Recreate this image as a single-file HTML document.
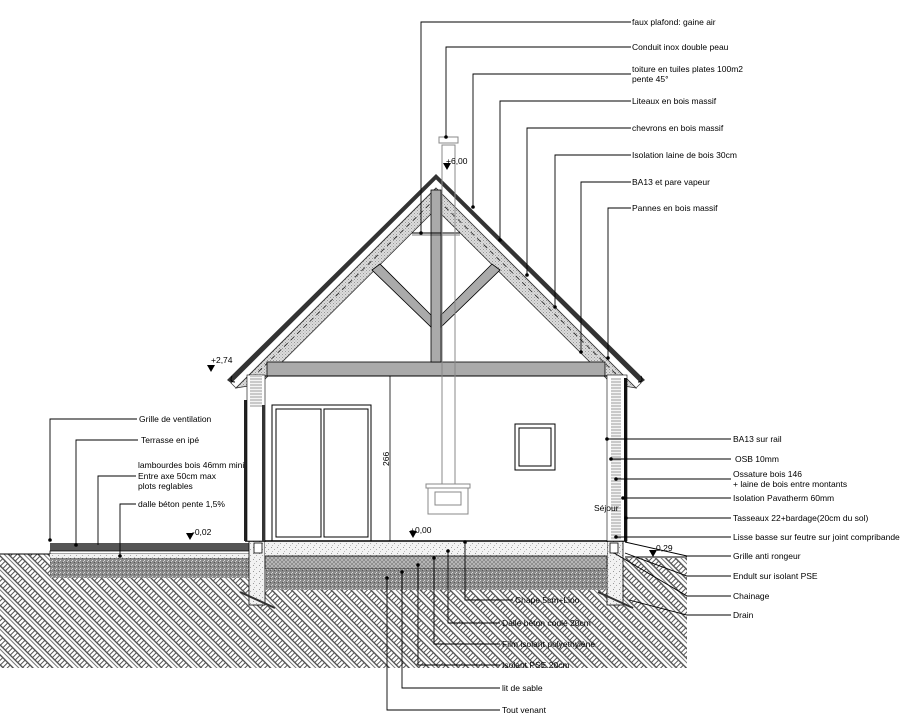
<!DOCTYPE html>
<html><head><meta charset="utf-8"><style>
html,body{margin:0;padding:0;background:#fff;}
svg{display:block;}
text{font-family:"Liberation Sans",sans-serif;font-size:8.5px;fill:#000;}
</style></head><body>
<svg width="907" height="722" viewBox="0 0 907 722" xmlns="http://www.w3.org/2000/svg">
<defs>
<pattern id="hatch" width="14" height="14" patternUnits="userSpaceOnUse" patternTransform="rotate(45)">
<rect width="14" height="14" fill="#fff"/>
<line x1="0" y1="1" x2="14" y2="1" stroke="#444" stroke-width="1.3"/>
<line x1="0" y1="8" x2="14" y2="8" stroke="#444" stroke-width="1.3"/>
<line x1="1.5" y1="1" x2="1.5" y2="8" stroke="#555" stroke-width="1"/>
<line x1="5" y1="1" x2="5" y2="8" stroke="#555" stroke-width="1"/>
<line x1="8.5" y1="1" x2="8.5" y2="8" stroke="#555" stroke-width="1"/>
<line x1="12" y1="1" x2="12" y2="8" stroke="#555" stroke-width="1"/>
<line x1="0" y1="11" x2="14" y2="11" stroke="#666" stroke-width="0.9"/>
</pattern>
<pattern id="gravel" width="4" height="4" patternUnits="userSpaceOnUse">
<rect width="4" height="4" fill="#8a8a8a"/>
<rect x="0" y="0" width="1" height="1" fill="#ddd"/>
<rect x="2" y="2" width="1" height="1" fill="#555"/>
<rect x="3" y="1" width="1" height="1" fill="#ccc"/>
</pattern>
<pattern id="speck" width="6" height="6" patternUnits="userSpaceOnUse">
<rect width="6" height="6" fill="#f2f2f2"/>
<rect x="1" y="1" width="1" height="1" fill="#999"/>
<rect x="4" y="3" width="1" height="1" fill="#aaa"/>
<rect x="2" y="5" width="1" height="1" fill="#bbb"/>
</pattern>
<pattern id="mesh" width="4" height="4" patternUnits="userSpaceOnUse">
<rect width="4" height="4" fill="#bbb"/>
<path d="M0 0L4 4M4 0L0 4" stroke="#777" stroke-width="0.6"/>
</pattern>
<pattern id="ins" width="3" height="3" patternUnits="userSpaceOnUse">
<rect width="3" height="3" fill="#dcdcdc"/>
<rect x="0" y="0" width="1" height="1" fill="#999"/>
<rect x="1.5" y="1.5" width="1" height="1" fill="#aaa"/>
</pattern>
<pattern id="stud" width="4" height="3" patternUnits="userSpaceOnUse">
<rect width="4" height="3" fill="#f4f4f4"/>
<line x1="0" y1="1" x2="4" y2="1" stroke="#888" stroke-width="0.8"/>
</pattern>
</defs>

<!-- ground -->
<polygon points="0,554 50,554 50,578 250,578 250,600 265,606 265,590 607,590 607,600 622,606 622,558 687,558 687,668 0,668" fill="url(#hatch)"/>
<line x1="0" y1="554" x2="50" y2="554" stroke="#000"/>
<line x1="625" y1="557" x2="687" y2="557" stroke="#000"/>
<!-- terrace -->
<rect x="50" y="543" width="200" height="8" fill="#555"/>
<rect x="50" y="551" width="200" height="3" fill="#fff" stroke="#000" stroke-width="0.7"/>
<rect x="50" y="554" width="200" height="4" fill="url(#speck)"/>
<rect x="50" y="558" width="200" height="20" fill="url(#gravel)"/>
<!-- slab & foundations -->
<rect x="249" y="541" width="16" height="64" fill="url(#speck)" stroke="#000" stroke-width="0.8"/>
<rect x="607" y="541" width="16" height="64" fill="url(#speck)" stroke="#000" stroke-width="0.8"/>
<rect x="265" y="542" width="342" height="14" fill="url(#speck)"/>
<rect x="265" y="556" width="342" height="13" fill="url(#mesh)" stroke="#000" stroke-width="0.8"/>
<rect x="265" y="569" width="342" height="21" fill="url(#gravel)"/>
<rect x="254" y="543" width="8" height="10" fill="#fff" stroke="#000" stroke-width="0.8"/>
<rect x="610" y="543" width="8" height="10" fill="#fff" stroke="#000" stroke-width="0.8"/>
<line x1="245" y1="541" x2="627" y2="541" stroke="#000" stroke-width="1.5"/>
<line x1="240" y1="592" x2="275" y2="608" stroke="#333" stroke-width="2"/>
<line x1="598" y1="592" x2="633" y2="608" stroke="#333" stroke-width="2"/>

<!-- roof -->
<polygon points="436,174 645,380 641,383 436,179 231,383 227,380" fill="#333"/>
<polygon points="436,179 641,383 636,388 436,188 236,388 231,383" fill="#fff" stroke="#333" stroke-width="0.7"/>
<polygon points="436,188 636,388 612,384 436,209 260,384 236,388" fill="url(#ins)" stroke="#333" stroke-width="0.8"/>
<polyline points="252,378 436,198 620,378" fill="none" stroke="#222" stroke-width="0.8" stroke-dasharray="5,4"/>
<path d="M232 376 q-3 6 3 6" fill="none" stroke="#000"/>
<path d="M641 376 q3 6 -3 6" fill="none" stroke="#000"/>
<!-- trusses -->
<rect x="267" y="362" width="338" height="14" fill="#aaa" stroke="#000" stroke-width="0.8"/>
<rect x="431" y="190" width="10" height="172" fill="#aaa" stroke="#000" stroke-width="0.8"/>
<polygon points="372,270 380,264 431,315 431,327" fill="#aaa" stroke="#000" stroke-width="0.8"/>
<polygon points="500,270 492,264 441,315 441,327" fill="#aaa" stroke="#000" stroke-width="0.8"/>
<line x1="412" y1="233" x2="460" y2="233" stroke="#000"/>
<line x1="412" y1="235" x2="460" y2="235" stroke="#000" stroke-width="0.6"/>

<!-- walls -->
<rect x="244" y="400" width="3" height="141" fill="#222"/>
<rect x="247" y="375" width="18" height="166" fill="#fff" stroke="#000" stroke-width="0.6"/>
<rect x="250" y="375" width="12" height="32" fill="url(#stud)"/>
<rect x="262" y="405" width="3" height="136" fill="#333"/>
<rect x="607" y="375" width="20" height="166" fill="#fff" stroke="#000" stroke-width="0.6"/>
<rect x="611" y="378" width="10" height="162" fill="url(#stud)"/>
<rect x="624" y="378" width="3" height="163" fill="#111"/>
<line x1="265" y1="376" x2="607" y2="376" stroke="#000"/>

<!-- chimney -->
<rect x="442" y="145" width="13" height="340" fill="none" stroke="#888" stroke-width="1"/>
<rect x="439" y="137" width="19" height="6" fill="#fff" stroke="#888"/>
<rect x="426" y="484" width="44" height="4" fill="#fff" stroke="#888"/>
<rect x="428" y="488" width="40" height="26" fill="#fff" stroke="#888"/>
<rect x="435" y="492" width="26" height="13" fill="none" stroke="#888"/>
<!-- door -->
<rect x="272" y="405" width="99" height="136" fill="none" stroke="#000"/>
<rect x="276" y="409" width="45" height="128" fill="none" stroke="#000"/>
<rect x="324" y="409" width="44" height="128" fill="none" stroke="#000"/>
<!-- window -->
<rect x="515" y="424" width="40" height="46" fill="none" stroke="#000"/>
<rect x="519" y="428" width="32" height="38" fill="none" stroke="#000"/>
<!-- dimension -->
<line x1="390" y1="376" x2="390" y2="541" stroke="#000" stroke-width="0.8"/>
<text x="389" y="466" transform="rotate(-90 389 466)" font-size="7">266</text>

<!-- level marks -->
<g fill="#000">
<polygon points="443,163 451,163 447,170"/><text x="446" y="164">+6,00</text>
<polygon points="207,365 215,365 211,372"/><text x="211" y="363">+2,74</text>
<polygon points="186,533 194,533 190,540"/><text x="192" y="535">-0,02</text>
<polygon points="409,531 417,531 413,538"/><text x="410" y="533">+0,00</text>
<polygon points="649,550 657,550 653,557"/><text x="656" y="551">0,29</text>
</g>
<text x="594" y="511" font-size="8">Séjour</text>

<!-- leaders -->
<g fill="none" stroke="#000" stroke-width="0.9">
<polyline points="421,233 421,22 631,22"/>
<polyline points="446,137 446,47 631,47"/>
<polyline points="473,207 473,74 631,74"/>
<polyline points="500,240 500,101 631,101"/>
<polyline points="527,275 527,128 631,128"/>
<polyline points="555,307 555,155 631,155"/>
<polyline points="581,352 581,182 631,182"/>
<polyline points="608,358 608,208 631,208"/>
<line x1="607" y1="439" x2="731" y2="439"/>
<line x1="611" y1="459" x2="731" y2="459"/>
<line x1="616" y1="479" x2="731" y2="479"/>
<line x1="623" y1="498" x2="731" y2="498"/>
<line x1="626" y1="518" x2="731" y2="518"/>
<line x1="616" y1="537" x2="731" y2="537"/>
<polyline points="625,542 687,556 731,556"/>
<polyline points="625,553 687,576 731,576"/>
<polyline points="614,553 687,596 731,596"/>
<polyline points="629,600 687,615 731,615"/>
<polyline points="50,540 50,419 137,419"/>
<polyline points="76,545 76,440 138,440"/>
<polyline points="98,545 98,476 136,476"/>
<polyline points="120,556 120,504 136,504"/>
<polyline points="465,542 465,600 513,600"/>
<polyline points="448,551 448,623 500,623"/>
<polyline points="434,558 434,644 500,644"/>
<polyline points="418,565 418,665 500,665"/>
<polyline points="402,572 402,688 500,688"/>
<polyline points="387,578 387,710 500,710"/>
</g>
<g fill="#000">
<circle cx="421" cy="233" r="1.8"/><circle cx="446" cy="137" r="1.8"/><circle cx="473" cy="207" r="1.8"/>
<circle cx="500" cy="240" r="1.8"/><circle cx="527" cy="275" r="1.8"/><circle cx="555" cy="307" r="1.8"/>
<circle cx="581" cy="352" r="1.8"/><circle cx="608" cy="358" r="1.8"/>
<circle cx="607" cy="439" r="1.8"/><circle cx="611" cy="459" r="1.8"/><circle cx="616" cy="479" r="1.8"/>
<circle cx="623" cy="498" r="1.8"/><circle cx="626" cy="518" r="1.8"/><circle cx="616" cy="537" r="1.8"/>
<circle cx="50" cy="540" r="1.8"/><circle cx="76" cy="545" r="1.8"/><circle cx="120" cy="556" r="1.8"/>
<circle cx="465" cy="542" r="1.8"/><circle cx="448" cy="551" r="1.8"/><circle cx="434" cy="558" r="1.8"/>
<circle cx="418" cy="565" r="1.8"/><circle cx="402" cy="572" r="1.8"/><circle cx="387" cy="578" r="1.8"/>
</g>

<!-- labels -->
<text x="632" y="25">faux plafond: gaine air</text>
<text x="632" y="50">Conduit inox double peau</text>
<text x="632" y="72">toiture en tuiles plates 100m2</text>
<text x="632" y="82">pente 45°</text>
<text x="632" y="104">Liteaux en bois massif</text>
<text x="632" y="131">chevrons en bois massif</text>
<text x="632" y="158">Isolation laine de bois 30cm</text>
<text x="632" y="185">BA13 et pare vapeur</text>
<text x="632" y="211">Pannes en bois massif</text>
<text x="733" y="442">BA13 sur rail</text>
<text x="735" y="462">OSB 10mm</text>
<text x="733" y="477">Ossature bois 146</text>
<text x="733" y="487">+ laine de bois entre montants</text>
<text x="733" y="501">Isolation Pavatherm 60mm</text>
<text x="733" y="521">Tasseaux 22+bardage(20cm du sol)</text>
<text x="733" y="540">Lisse basse sur feutre sur joint compribande</text>
<text x="733" y="559">Grille anti rongeur</text>
<text x="733" y="579">Endult sur isolant PSE</text>
<text x="733" y="599">Chainage</text>
<text x="733" y="618">Drain</text>
<text x="139" y="422">Grille de ventilation</text>
<text x="141" y="443">Terrasse en ipé</text>
<text x="138" y="468">lambourdes bois 46mm mini</text>
<text x="138" y="479">Entre axe 50cm max</text>
<text x="138" y="489">plots reglables</text>
<text x="138" y="507">dalle béton pente 1,5%</text>
<text x="515" y="603">Chape 5cm+Lino</text>
<text x="502" y="626">Dalle béton coulé 20cm</text>
<text x="502" y="647">Film isolant polyethylène</text>
<text x="502" y="668">Isolant PSE 20cm</text>
<text x="502" y="691">lit de sable</text>
<text x="502" y="713">Tout venant</text>
</svg>
</body></html>
